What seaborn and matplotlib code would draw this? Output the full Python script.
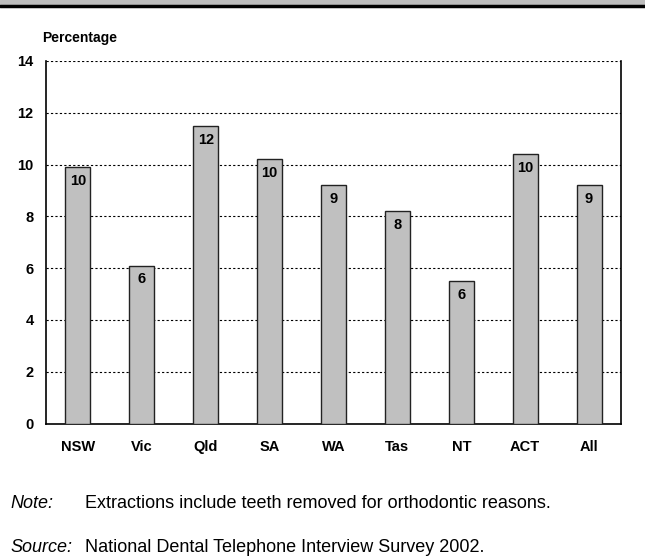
import numpy as np
import pandas as pd
import matplotlib
matplotlib.use('Agg')
import matplotlib.pyplot as plt
import seaborn as sns

# дані з графіка
states = ['NSW', 'Vic', 'Qld', 'SA', 'WA', 'Tas', 'NT', 'ACT', 'All']
pct = [9.9, 6.1, 11.5, 10.2, 9.2, 8.2, 5.5, 10.4, 9.2]
bar_labels = ['10', '6', '12', '10', '9', '8', '6', '10', '9']
yticks = [0, 2, 4, 6, 8, 10, 12, 14]

df = pd.DataFrame({'state': states, 'pct': pct})

sns.set_style('white')
plt.rcParams['font.family'] = ['Liberation Sans', 'DejaVu Sans']
plt.rcParams['text.color'] = 'black'
plt.rcParams['xtick.color'] = 'black'
plt.rcParams['ytick.color'] = 'black'

fig = plt.figure(figsize=(6.45, 5.56), dpi=100)
ax = fig.add_axes([46 / 645, 1 - 423.5 / 556, 575 / 645, 362.5 / 556])

sns.barplot(data=df, x='state', y='pct', color='#c0c0c0', saturation=1,
            width=0.39, edgecolor='#222222', linewidth=1.0, ax=ax, zorder=3)

ax.set_ylim(0, 14)
ax.set_yticks(yticks)
ax.set_yticklabels([str(t) for t in yticks], fontsize=10.5, fontweight='bold')
ax.set_xticks(range(len(states)))
ax.set_xticklabels(states, fontsize=10.5, fontweight='bold')
ax.tick_params(axis='both', length=0)
ax.tick_params(axis='x', pad=12)
ax.tick_params(axis='y', pad=9)
ax.set_xlabel('')
ax.set_ylabel('')

for t in yticks[1:]:
    ax.axhline(t, color='black', lw=0.8, ls=(0, (2, 2)), zorder=1)

for s in ['left', 'bottom', 'right']:
    ax.spines[s].set_visible(True)
    ax.spines[s].set_color('black')
    ax.spines[s].set_linewidth(1.2)
ax.spines['top'].set_visible(False)

for i, (v, lab) in enumerate(zip(pct, bar_labels)):
    ax.annotate(lab, (i, v), xytext=(0, -10), textcoords='offset points',
                ha='center', va='center', fontsize=10.5, fontweight='bold', zorder=4)

fig.text(42 / 645, 1 - 38 / 556, 'Percentage', fontsize=10, fontweight='bold',
         ha='left', va='center')

# смуга заголовка зверху (обрізана)
fig.patches.append(plt.Rectangle((0, 1 - 5 / 556), 1, 5 / 556, transform=fig.transFigure,
                                 color='#bdbdbd', zorder=0))
fig.add_artist(plt.Line2D([0, 1], [1 - 6 / 556, 1 - 6 / 556], transform=fig.transFigure,
                          color='black', lw=2.5))

fig.text(10 / 645, 1 - 503 / 556, 'Note:', fontsize=13, style='italic', ha='left', va='center')
fig.text(85 / 645, 1 - 503 / 556, 'Extractions include teeth removed for orthodontic reasons.',
         fontsize=13, ha='left', va='center')
fig.text(10 / 645, 1 - 547 / 556, 'Source:', fontsize=13, style='italic', ha='left', va='center')
fig.text(85 / 645, 1 - 547 / 556, 'National Dental Telephone Interview Survey 2002.',
         fontsize=13, ha='left', va='center')

fig.savefig('out.png', dpi=100)
